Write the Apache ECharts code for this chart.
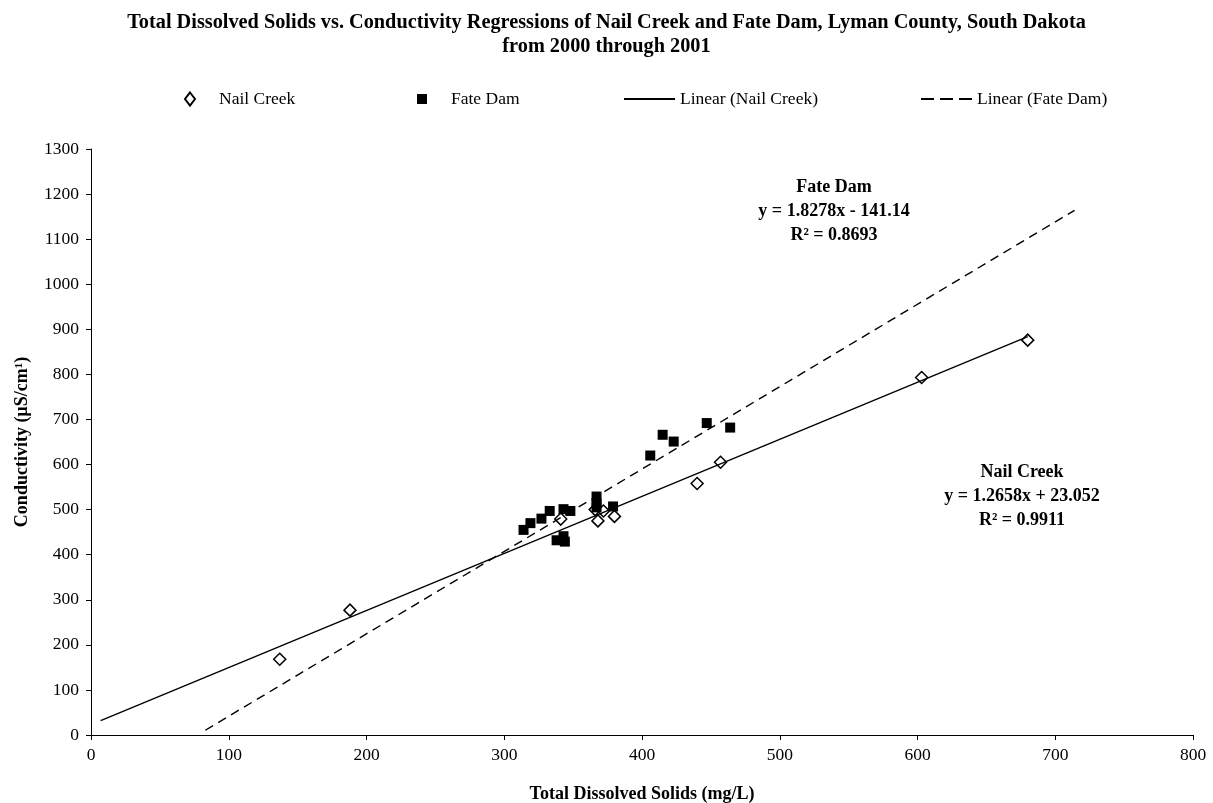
<!DOCTYPE html>
<html>
<head>
<meta charset="utf-8">
<title>Total Dissolved Solids vs. Conductivity</title>
<script src="https://cdn.jsdelivr.net/npm/echarts@6/dist/echarts.min.js"></script>
<style>
  html, body { margin: 0; padding: 0; background: #fff; }
  #chart { width: 1213px; height: 803px; }
</style>
</head>
<body>
<div id="chart"></div>
<script>
// Sample measurements: total dissolved solids (mg/L) and conductivity (µS/cm)
const nailTds  = [137, 188, 341, 366, 368, 372, 380, 440, 457, 603, 680];
const nailCond = [168, 277, 479, 500, 475, 497, 485, 558, 605, 793, 876];

const fateTds  = [314, 319, 327, 333, 343, 348, 338, 344, 343, 367, 367, 367, 379, 406, 415, 423, 447, 464];
const fateCond = [455, 470, 480, 497, 501, 497, 432, 429, 441, 529, 514, 505, 507, 620, 666, 651, 692, 682];

// Linear regression coefficients (slope, intercept, R²)
const nailFit = { slope: 1.2658, intercept: 23.052, r2: 0.9911 };
const fateFit = { slope: 1.8278, intercept: -141.14, r2: 0.8693 };

// Trendline x extents (forecast range of each fitted line)
const nailLineX = [7, 680];
const fateLineX = [83, 714];

// Axis ticks
const xTicks = { min: 0, max: 800, interval: 100 };
const yTicks = { min: 0, max: 1300, interval: 100 };

const FONT = '"Liberation Serif", "Times New Roman", serif';

const zip = (xs, ys) => xs.map((x, i) => [x, ys[i]]);
const fitLine = (fit, xs) => xs.map(x => [x, fit.slope * x + fit.intercept]);
const fmtEq = fit => 'y = ' + fit.slope.toFixed(4) + 'x ' +
  (fit.intercept < 0 ? '- ' : '+ ') + Math.abs(fit.intercept).toFixed(fit.intercept < 0 ? 2 : 3);

const chart = echarts.init(document.getElementById('chart'), null, { renderer: 'canvas' });

const legendText = { fontFamily: FONT, fontSize: 17.5, color: '#000' };
const legendBase = { top: 90, itemHeight: 13, padding: 0, selectedMode: false };

function eqBlock(cx, cy, name, fit) {
  const font = 'bold 18px ' + FONT;
  const lines = [name, fmtEq(fit), 'R\u00B2 = ' + fit.r2.toFixed(4)];
  return lines.map((t, i) => ({
    type: 'text', x: cx, y: cy + i * 24,
    style: { text: t, font: font, fill: '#000', textAlign: 'center', textVerticalAlign: 'middle' }
  }));
}

const axisCommon = {
  type: 'value',
  nameLocation: 'middle',
  nameTextStyle: { fontFamily: FONT, fontSize: 18, fontWeight: 'bold', color: '#000' },
  axisLine: { show: true, onZero: false, lineStyle: { color: '#000', width: 1 } },
  axisTick: { show: true, inside: false, length: 5, lineStyle: { color: '#000' } },
  splitLine: { show: false }
};

const option = {
  backgroundColor: '#fff',
  animation: false,
  title: {
    text: 'Total Dissolved Solids vs. Conductivity Regressions of Nail Creek and Fate Dam, Lyman County, South Dakota\nfrom 2000 through 2001',
    left: 'center',
    top: 6,
    textStyle: { fontFamily: FONT, fontSize: 20.3, fontWeight: 'bold', color: '#000', lineHeight: 24 }
  },
  legend: [
    Object.assign({}, legendBase, {
      left: 184, itemWidth: 10, itemHeight: 13,
      textStyle: Object.assign({}, legendText, { padding: [0, 0, 0, 19] }),
      data: [{ name: 'Nail Creek', icon: 'diamond' }]
    }),
    Object.assign({}, legendBase, {
      left: 417, itemWidth: 10, itemHeight: 10,
      textStyle: Object.assign({}, legendText, { padding: [0, 0, 0, 19] }),
      data: [{ name: 'Fate Dam', icon: 'rect' }]
    }),
    Object.assign({}, legendBase, {
      left: 623, itemWidth: 51,
      textStyle: legendText,
      itemStyle: { opacity: 0 },
      lineStyle: { width: 2 },
      data: ['Linear (Nail Creek)']
    }),
    Object.assign({}, legendBase, {
      left: 920, itemWidth: 51,
      textStyle: legendText,
      itemStyle: { opacity: 0 },
      lineStyle: { width: 2, type: [13, 6] },
      data: ['Linear (Fate Dam)']
    })
  ],
  grid: { left: 91, right: 20, top: 149, bottom: 68, containLabel: false, outerBoundsMode: 'none' },
  xAxis: Object.assign({}, axisCommon, {
    min: xTicks.min, max: xTicks.max, interval: xTicks.interval,
    name: 'Total Dissolved Solids (mg/L)',
    nameGap: 50,
    axisLabel: { fontFamily: FONT, fontSize: 17.5, color: '#000', margin: 11, formatter: v => String(v) }
  }),
  yAxis: Object.assign({}, axisCommon, {
    min: yTicks.min, max: yTicks.max, interval: yTicks.interval,
    name: 'Conductivity (\u00B5S/cm\u00B9)',
    nameGap: 60,
    axisLabel: { fontFamily: FONT, fontSize: 17.5, color: '#000', margin: 12, formatter: v => String(v) }
  }),
  series: [
    {
      name: 'Nail Creek',
      type: 'scatter',
      symbol: 'diamond',
      symbolSize: 12,
      itemStyle: { color: '#fff', borderColor: '#000', borderWidth: 1.5, opacity: 1 },
      data: zip(nailTds, nailCond),
      z: 3
    },
    {
      name: 'Fate Dam',
      type: 'scatter',
      symbol: 'rect',
      symbolSize: 10,
      itemStyle: { color: '#000', opacity: 1 },
      data: zip(fateTds, fateCond),
      z: 4
    },
    {
      name: 'Linear (Nail Creek)',
      type: 'line',
      symbol: 'none',
      itemStyle: { color: '#000' },
      lineStyle: { color: '#000', width: 1.4, type: 'solid' },
      data: fitLine(nailFit, nailLineX),
      z: 5
    },
    {
      name: 'Linear (Fate Dam)',
      type: 'line',
      symbol: 'none',
      itemStyle: { color: '#000' },
      lineStyle: { color: '#000', width: 1.4, type: [9, 6] },
      data: fitLine(fateFit, fateLineX),
      z: 5
    }
  ],
  graphic: [].concat(
    eqBlock(834, 187, 'Fate Dam', fateFit),
    eqBlock(1022, 472, 'Nail Creek', nailFit)
  )
};

chart.setOption(option);
</script>
</body>
</html>
